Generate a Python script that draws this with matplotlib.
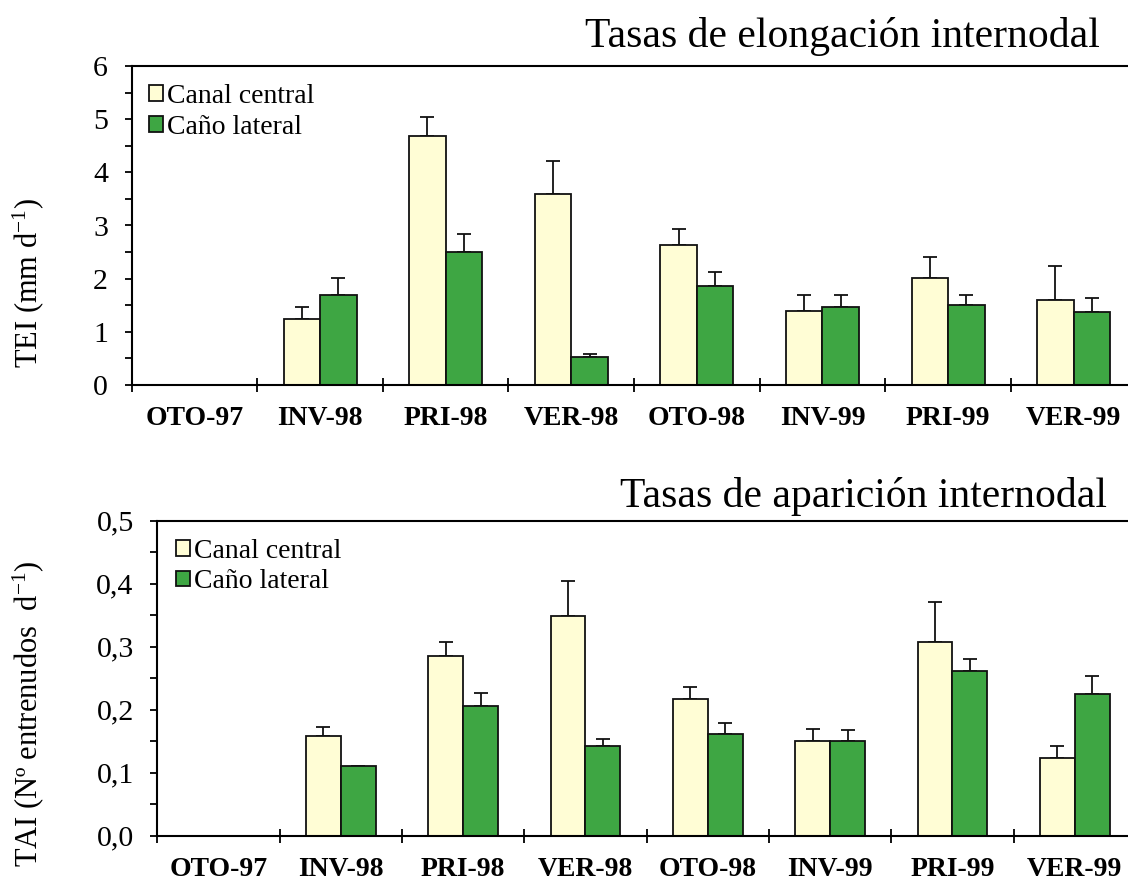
import matplotlib
matplotlib.use("Agg")
import matplotlib.pyplot as plt
from matplotlib.patches import Patch
from matplotlib.ticker import MultipleLocator, FixedLocator, FuncFormatter
import numpy as np

plt.rcParams['font.family'] = ['Liberation Serif', 'DejaVu Serif']
plt.rcParams['mathtext.fontset'] = 'custom'
plt.rcParams['mathtext.rm'] = 'Liberation Serif'
plt.rcParams['mathtext.it'] = 'Liberation Serif:italic'

seasons = ["OTO-97", "INV-98", "PRI-98", "VER-98", "OTO-98", "INV-99", "PRI-99", "VER-99"]
series_names = ["Canal central", "Caño lateral"]

# Internodal elongation rate (mm/d) and standard errors
tei_canal = [np.nan, 1.24, 4.69, 3.59, 2.64, 1.40, 2.02, 1.60]
tei_canal_err = [0, 0.22, 0.36, 0.62, 0.29, 0.29, 0.39, 0.64]
tei_cano = [np.nan, 1.69, 2.50, 0.53, 1.86, 1.47, 1.50, 1.37]
tei_cano_err = [0, 0.33, 0.34, 0.06, 0.27, 0.22, 0.19, 0.26]

# Internodal appearance rate (internodes/d) and standard errors
tai_canal = [np.nan, 0.159, 0.286, 0.349, 0.217, 0.151, 0.308, 0.123]
tai_canal_err = [0, 0.013, 0.022, 0.056, 0.019, 0.019, 0.063, 0.019]
tai_cano = [np.nan, 0.110, 0.206, 0.142, 0.161, 0.151, 0.261, 0.225]
tai_cano_err = [0, 0.0, 0.020, 0.011, 0.018, 0.017, 0.019, 0.028]

col_canal = "#FFFDD5"
col_cano = "#3EA643"

W, H = 1128, 880
fig = plt.figure(figsize=(W / 100, H / 100), dpi=100)
ax1 = fig.add_axes([131.7 / W, 1 - 385 / H, (1136.5 - 131.7) / W, (385 - 66) / H])
ax2 = fig.add_axes([157.3 / W, 1 - 835.7 / H, (1136 - 157.3) / W, (835.7 - 520.7) / H])


def draw(ax, canal, canal_err, cano, cano_err, width, ymax, ymajor, yminor, fmt, leg_anchor):
    x = np.arange(len(seasons))
    for vals, errs, off, col in ((canal, canal_err, -width / 2, col_canal),
                                 (cano, cano_err, width / 2, col_cano)):
        v = np.array(vals, dtype=float)
        e = np.array(errs, dtype=float)
        ok = ~np.isnan(v)
        ax.bar(x[ok] + off, v[ok], width=width, color=col, edgecolor="#111111",
               linewidth=1.3, zorder=2)
        ax.errorbar(x[ok] + off, v[ok], yerr=[np.zeros(ok.sum()), e[ok]], fmt="none",
                    ecolor="#111111", elinewidth=1.3, capsize=4.7, capthick=1.3, zorder=1)
    ax.set_xlim(-0.5, len(seasons) - 0.5)
    ax.set_ylim(0, ymax)
    ax.xaxis.set_major_locator(FixedLocator(x))
    ax.set_xticklabels(seasons, fontweight="bold", fontsize=20)
    ax.xaxis.set_minor_locator(FixedLocator(np.arange(-0.5, len(seasons) - 0.5, 1.0)))
    ax.tick_params(axis="x", which="major", length=0, pad=15)
    ax.tick_params(axis="x", which="minor", direction="inout", length=10, width=1.3)
    ax.yaxis.set_major_locator(MultipleLocator(ymajor))
    ax.yaxis.set_minor_locator(MultipleLocator(yminor))
    ax.yaxis.set_major_formatter(FuncFormatter(fmt))
    ax.tick_params(axis="y", which="both", direction="out", length=5, width=1.3,
                   labelsize=21.5, pad=12)
    for s in ("left", "bottom", "top", "right"):
        ax.spines[s].set_linewidth(1.5)
    handles = [Patch(facecolor=col_canal, edgecolor="#111111", linewidth=1.3),
               Patch(facecolor=col_cano, edgecolor="#111111", linewidth=1.3)]
    ax.legend(handles, series_names, loc="upper left", bbox_to_anchor=leg_anchor,
              frameon=False, fontsize=20, handlelength=0.5, handleheight=0.5,
              handletextpad=0.15, labelspacing=0.2, borderaxespad=0.0)


draw(ax1, tei_canal, tei_canal_err, tei_cano, tei_cano_err, 0.29, 6, 1, 0.5,
     lambda v, p: f"{v:.0f}", (6 / 1005, 1 - 7 / 319))
draw(ax2, tai_canal, tai_canal_err, tai_cano, tai_cano_err, 0.284, 0.5, 0.1, 0.05,
     lambda v, p: f"{v:.1f}".replace(".", ","), (8 / 979, 1 - 7 / 315))

fig.text(1100 / W, 1 - 47 / H, "Tasas de elongación internodal", fontsize=30,
         ha="right", va="baseline")
fig.text(1107 / W, 1 - 507 / H, "Tasas de aparición internodal", fontsize=30,
         ha="right", va="baseline")
fig.text(28 / W, 1 - 283 / H, r"TEI (mm d$^{\mathrm{-1}}$)", fontsize=22,
         rotation=90, ha="center", va="center")
fig.text(28 / W, 1 - 714 / H, r"TAI (Nº entrenudos  d$^{\mathrm{-1}}$)", fontsize=22,
         rotation=90, ha="center", va="center")

fig.savefig("out.png", dpi=100)
